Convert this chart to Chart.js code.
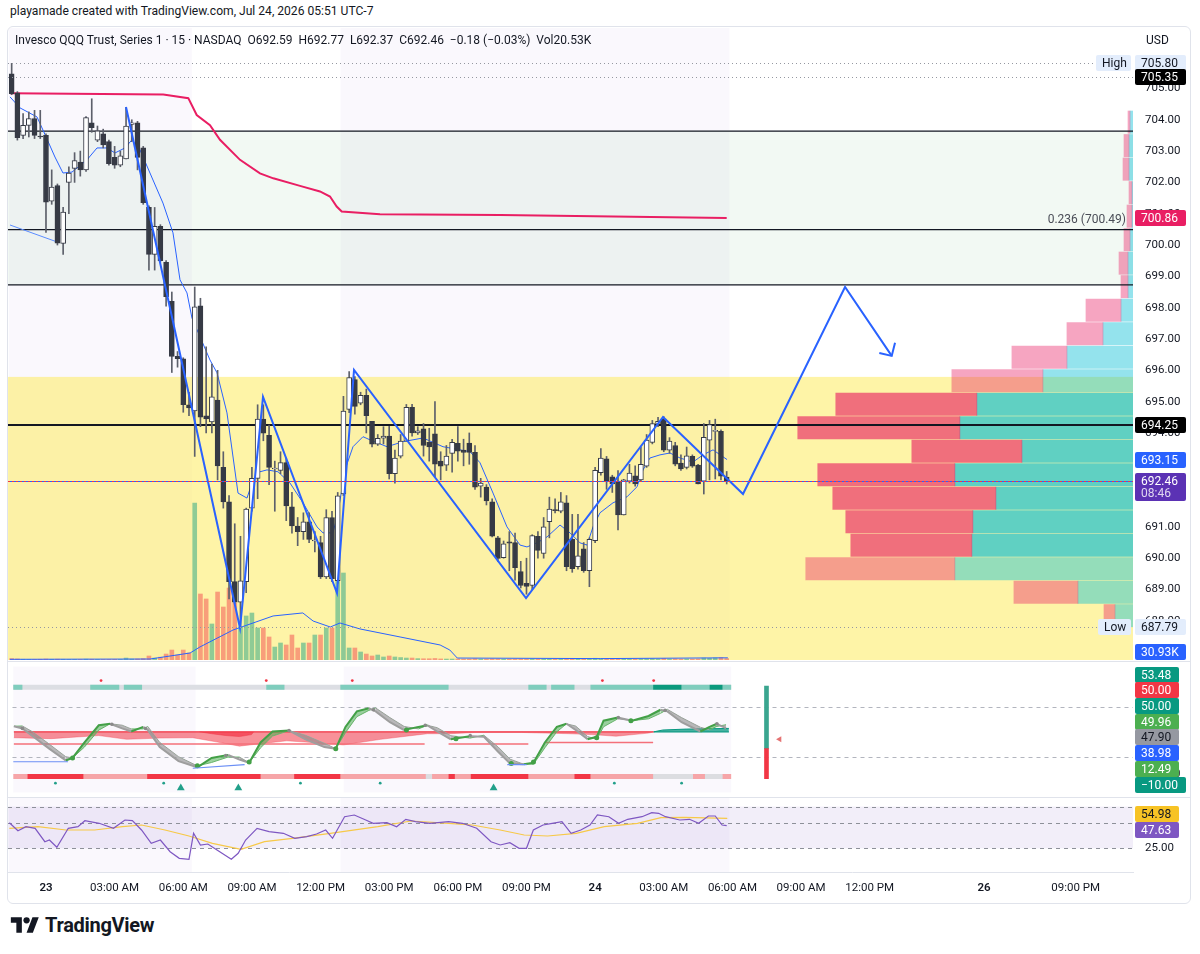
<!DOCTYPE html>
<html>
<head>
<meta charset="utf-8">
<title>QQQ 15m</title>
<script src="https://cdn.jsdelivr.net/npm/chart.js@4.4.3/dist/chart.umd.min.js"></script>
<style>
  html, body { margin: 0; padding: 0; background: #fff; }
  body { width: 1200px; height: 954px; position: relative; overflow: hidden; font-family: Roboto, "Noto Sans", sans-serif; color: #131722; }
  .abs { position: absolute; }
  canvas { position: absolute; display: block; }
  #credit { left: 10px; top: 1px; font-size: 12.1px; line-height: 20px; }
  #frame { left: 7px; top: 26px; width: 1184px; height: 878px; border: 1px solid #e0e3eb; border-radius: 6px; box-sizing: border-box; }
  #legend { left: 15px; top: 31px; font-size: 12px; line-height: 18px; white-space: pre; }
  #usd { left: 1146px; top: 31px; font-size: 12px; line-height: 18px; }
  .sep { position: absolute; left: 8px; width: 1182px; height: 1px; background: #e0e3eb; }
  #logo { left: 10px; top: 913px; display: flex; align-items: center; gap: 5px; font-size: 20px; font-weight: 700; letter-spacing: -0.3px; }
</style>
</head>
<body>
<div id="credit" class="abs">playamade created with TradingView.com, Jul 24, 2026 05:51 UTC-7</div>
<canvas id="main" width="1182" height="632" style="left:8px;top:28px"></canvas>
<canvas id="osc" width="1182" height="135" style="left:8px;top:662px"></canvas>
<canvas id="rsi" width="1182" height="105" style="left:8px;top:798px"></canvas>
<div class="sep" style="top:661px"></div>
<div class="sep" style="top:797px"></div>
<div id="frame" class="abs"></div>
<div id="legend" class="abs">Invesco QQQ Trust, Series 1 · 15 · NASDAQ  O692.59  H692.77  L692.37  C692.46  −0.18 (−0.03%)  Vol20.53K</div>
<div id="usd" class="abs">USD</div>
<div id="logo" class="abs">
  <svg width="30" height="22" viewBox="0 0 36 28"><path d="M14 24H7V11H0V4h14v20zM28 24h-8l7.5-20h8L28 24z" fill="#131722"/><circle cx="20" cy="8" r="4" fill="#131722"/></svg>
  <span>TradingView</span>
</div>

<script>
const FONT = 'Roboto, "Noto Sans", sans-serif';
Chart.defaults.font.family = FONT;
Chart.defaults.animation = false;

// ---- time axis: bar index 0 = Jul 23 00:00, one bar = 15 min
const X_MIN = -6.64, X_MAX = 190.03;
const TIME_TICKS = [0, 12, 24, 36, 48, 60, 72, 84, 96, 108, 120, 132, 144, 164, 180];
const TIME_LABELS = ["23", "03:00 AM", "06:00 AM", "09:00 AM", "12:00 PM", "03:00 PM", "06:00 PM", "09:00 PM", "24", "03:00 AM", "06:00 AM", "09:00 AM", "12:00 PM", "26", "09:00 PM"];
const DAY_LABELS = ["23", "24", "26"];
const EXT_SESSIONS = [[-6.5, 25.5], [51.5, 119.5]];

// ---- price pane
const P_MIN = 686.75, P_MAX = 706.93;
const PRICE_TICKS = [687, 688, 689, 690, 691, 692, 693, 694, 695, 696, 697, 698, 699, 700, 701, 702, 703, 704, 705];
const FIRST_BAR = -6;
const OPEN = [705.47,704.86,703.50,703.82,704.04,703.48,703.50,701.40,701.90,700.05,702.00,702.45,702.65,702.40,703.90,703.35,703.55,703.30,702.80,702.55,702.75,703.85,703.90,703.10,701.20,699.70,700.60,699.45,698.20,696.45,696.37,694.90,694.70,698.06,694.55,694.35,695.05,692.90,691.80,689.25,688.60,689.25,691.60,692.55,694.44,693.92,692.85,692.80,693.05,691.64,691.03,690.85,691.16,690.55,690.50,689.40,691.30,689.28,692.05,694.75,695.70,694.95,695.20,694.37,693.64,693.83,693.90,692.70,693.26,693.74,694.82,694.00,694.13,693.70,693.97,693.10,692.97,693.35,693.67,693.45,693.68,693.38,692.30,692.27,691.80,690.65,690.02,690.52,690.50,689.57,689.20,689.13,690.70,690.15,691.17,691.55,691.50,691.77,690.60,689.73,690.30,689.60,690.56,692.73,693.17,692.60,692.46,691.38,692.46,692.63,692.50,692.94,693.70,694.28,694.44,693.45,693.60,693.04,692.90,693.25,692.97,692.46,693.77,694.05,694.05,692.59];
const HIGH = [705.80,704.90,704.20,704.25,704.30,704.30,703.55,702.40,701.95,701.20,702.50,702.95,703.00,704.10,704.67,703.80,703.70,703.35,703.15,703.00,704.40,704.00,703.95,703.15,701.25,701.20,700.65,699.50,698.50,696.60,696.40,695.30,698.66,698.30,696.75,696.20,696.00,693.40,692.00,691.10,690.70,691.60,692.90,694.90,694.90,694.25,693.10,693.40,693.20,692.10,691.30,691.45,691.45,690.85,690.70,691.55,691.50,692.10,695.17,695.96,695.80,695.30,695.40,694.37,693.95,694.20,694.21,693.45,693.95,694.91,694.91,694.20,694.30,694.15,695.00,693.40,693.60,693.80,694.20,693.80,694.00,693.60,692.55,692.35,691.90,690.70,690.55,690.85,690.80,689.90,690.00,690.75,690.85,691.30,691.95,691.90,692.10,692.00,691.40,691.40,690.50,690.65,692.90,693.50,693.25,692.65,692.80,692.52,693.00,692.95,693.55,693.95,694.40,694.50,694.52,693.85,693.70,693.30,693.55,693.30,693.00,694.30,694.40,694.44,694.10,692.77];
const LOW = [704.80,703.35,703.40,703.45,703.40,703.40,700.40,701.30,700.00,699.70,701.00,702.00,702.20,702.35,703.60,703.30,703.10,702.55,702.45,702.50,702.75,703.30,702.40,701.30,699.20,699.20,699.45,698.05,695.93,696.10,694.66,694.55,693.25,694.20,694.00,694.00,692.50,691.60,688.70,688.55,687.79,688.90,691.50,691.90,693.75,692.35,691.50,692.70,691.20,690.80,690.40,690.60,690.50,690.20,689.35,689.35,689.25,689.20,692.00,694.65,694.60,694.90,694.00,693.55,693.60,693.65,692.53,692.40,693.20,693.74,693.90,693.95,693.26,693.10,692.60,692.50,692.80,692.75,693.10,692.95,693.00,692.20,691.95,691.70,690.68,689.90,690.00,689.60,689.30,689.05,688.85,689.00,690.00,690.00,690.65,691.45,691.45,689.60,689.55,689.65,689.55,689.09,690.50,692.65,692.20,692.10,690.90,691.38,692.40,692.30,692.47,692.90,693.65,694.20,693.40,693.35,692.95,692.80,692.85,692.90,692.37,692.05,692.50,692.53,692.50,692.37];
const CLOSE = [704.83,703.43,703.82,704.04,703.50,703.45,701.37,701.85,700.06,701.05,702.30,702.70,702.40,704.07,703.75,703.65,703.20,702.60,702.55,702.85,703.80,703.90,702.80,701.35,699.70,700.60,699.50,698.35,696.44,696.37,694.90,694.80,698.03,694.50,694.45,695.15,692.95,691.80,689.25,688.60,689.28,691.57,692.55,694.44,693.99,692.90,692.88,693.05,691.67,691.03,690.85,691.16,690.60,690.58,689.40,691.30,689.35,691.99,694.70,695.77,694.85,695.20,694.55,693.64,693.83,693.90,692.70,693.20,693.74,694.82,694.00,694.07,693.60,693.55,693.00,692.94,693.26,693.70,693.42,693.38,693.38,692.27,692.40,691.83,690.70,689.99,690.46,690.48,689.70,689.13,689.10,690.72,690.25,691.00,691.57,691.52,691.80,689.73,689.67,690.08,689.60,690.60,692.81,693.20,692.46,692.37,691.38,692.50,692.72,692.37,693.00,693.77,694.30,694.37,693.45,693.74,693.00,692.85,693.27,692.94,692.37,693.86,694.27,694.08,692.62,692.46];
const VOLUME_K = [20,15,10,8,8,10,14,10,12,10,8,8,7,12,10,8,7,8,9,8,28,14,15,20,57,28,40,85,142,71,142,100,2236,940,869,513,968,755,1025,812,470,627,669,456,456,328,185,242,214,356,171,242,242,356,356,456,456,1225,1239,171,171,114,85,57,71,43,57,43,35,28,28,20,18,18,22,15,14,14,15,12,12,18,12,12,16,14,10,10,12,12,10,14,10,12,12,10,10,16,14,12,10,14,25,18,14,12,20,16,12,10,14,16,18,14,22,14,16,12,14,12,14,28,24,30,35,20.53];
const VOL_AXIS_MAX = 9000;
const VOL_MA_X = [-6.3, 18.2, 25.2, 26.9, 32.7, 39.7, 44.9, 46.7, 49.7, 51.4, 54.9, 61.9, 68.9, 70.6, 71.9, 96.9, 119.2];
const VOL_MA_K = [10, 14, 100, 185, 427, 627, 670, 555, 470, 527, 442, 328, 214, 142, 28, 20, 30.93];

const MA_X = [-6.29,-4.55,-1.57,-0.52,1.57,2.97,4.55,7.17,8.92,10.66,12.06,13.81,15.03,16.43,18.18,20.45,22.20,23.43,24.65,25.52,28.67,29.90,31.64,33.57,35.14,36.19,37.41,38.64,40.56,42.66,44.93,47.38,48.43,50.17,51.05,52.27,53.67,55.42,56.64,59.62,62.41,65.91,69.41,72.38,74.13,75.87,78.15,80.59,82.87,84.09,85.84,87.59,89.86,91.61,93.36,94.58,95.63,96.85,99.13,101.57,103.32,104.37,105.59,107.34,109.09,110.84,113.11,114.86,116.61,119.06];
const MA_P = [704.73,704.38,704.09,703.67,702.81,702.30,702.33,702.72,703.10,703.10,702.94,703.10,703.36,703.04,702.30,701.34,700.39,698.89,698.47,697.67,696.33,695.92,694.64,692.08,691.92,692.50,692.76,692.82,692.76,692.40,691.77,691.00,690.81,690.81,691.45,692.82,693.56,693.88,693.78,693.56,693.72,693.84,693.56,693.46,693.40,693.05,692.08,691.00,690.42,690.36,690.49,690.68,691.06,690.81,690.49,690.42,691.00,691.45,691.77,691.96,692.28,692.82,693.20,693.30,693.36,693.20,693.07,693.30,693.46,693.15];
const BAND_X = [-6.29, 1.92];
const BAND_P = [700.64, 700.10];
const VWAP_X = [-6.29, 20.51, 24.88, 26.35, 28.67, 30.42, 33.92, 37.41, 39.74, 44.41, 47.90, 49.65, 50.82, 51.70, 58.39, 79.37, 119.0];
const VWAP_P = [704.85, 704.81, 704.69, 704.15, 703.83, 703.36, 702.72, 702.29, 702.13, 701.89, 701.71, 701.55, 701.23, 701.07, 700.98, 700.96, 700.86];
const ZIGZAG_X = [13.99, 33.92, 37.94, 50.87, 53.85, 83.92, 107.87, 121.85, 139.69, 147.85];
const ZIGZAG_P = [704.41, 687.77, 695.15, 688.89, 696.01, 688.73, 694.51, 692.05, 698.66, 696.46];
const ARROW_X = [145.68, 147.85, 148.43];
const ARROW_P = [696.55, 696.46, 696.88];

const LEVELS = [703.64, 700.49, 698.73, 694.25];
const FIB_LEVEL = 700.49;
const GREEN_ZONE = [698.73, 703.64];
const YELLOW_ZONE = [685.5, 695.79];
const HIGH_PRICE = 705.80, PREV_LINE = 705.35, LOW_PRICE = 687.79, LAST_PRICE = 692.46;

// volume profile, rows from the session low upward
const PROFILE_LOW = 687.79, PROFILE_ROW = 0.7504;
const PROFILE_UP_K = [540,1650,5340,4830,4800,4110,5340,3330,5190,4680,2700,1980,900,360,150,150,90,30,30,120,120,90];
const PROFILE_DN_K = [330,1920,4470,3630,3810,4890,4110,3300,4860,4230,2730,1650,1080,1050,210,270,180,150,90,180,150,60];
const VALUE_AREA = [3, 9];

const MAIN_TAGS = [
  { v: 705.80, text: "705.80", bg: "#e3edfc", fg: "#131722", side: "High" },
  { v: 705.35, text: "705.35", bg: "#000000", fg: "#ffffff" },
  { v: 700.86, text: "700.86", bg: "#e91e63", fg: "#ffffff" },
  { v: 694.25, text: "694.25", bg: "#000000", fg: "#ffffff" },
  { v: 693.15, text: "693.15", bg: "#2962ff", fg: "#ffffff" },
  { v: 692.46, text: "692.46", sub: "08:46", bg: "#5b32b4", fg: "#ffffff" },
  { v: 687.79, text: "687.79", bg: "#e3edfc", fg: "#131722", side: "Low" },
];
const VOL_TAG = { v: 30.93, text: "30.93K", bg: "#2962ff", fg: "#ffffff" };

// ---- oscillator pane
const OSC_MIN = -22.2, OSC_MAX = 127.8;
const OSC_LEVELS = [80, 20];
const OSC_X = [-6.4,-4.9,-3.1,-0.2,2.7,3.9,6.0,8.5,10.5,12.6,14.2,16.3,17.1,19.2,22.5,25.8,28.3,31.2,33.2,34.9,36.9,39.0,41.9,44.8,48.1,50.1,51.8,53.8,55.9,57.1,59.6,62.1,64.6,66.2,67.9,70.3,73.6,76.1,78.6,80.7,83.1,84.8,86.8,88.9,90.6,92.2,94.3,95.9,97.1,99.6,102.1,105.0,107.1,108.3,110.8,114.1,115.7,117.0,118.6];
const OSC_FAST = [56.7,54.1,44.8,30.0,15.9,18.9,37.4,57.8,59.6,54.1,50.4,55.9,52.2,31.9,15.2,7.8,18.9,22.6,17.0,13.3,37.4,50.4,51.5,41.1,31.9,30.0,55.9,74.4,78.1,74.4,61.5,52.2,55.9,57.8,50.4,41.1,44.8,44.1,26.3,12.2,11.5,13.3,37.4,55.9,59.6,52.2,41.1,44.1,63.3,67.0,63.3,68.9,76.3,74.4,61.5,50.4,55.9,59.6,54.1];
const OSC_SLOW = [56.7,57.0,50.0,35.5,20.5,18.9,32.0,52.0,59.6,58.0,53.5,53.5,56.5,37.5,20.5,9.5,13.5,20.0,20.0,13.3,31.0,45.0,51.5,46.0,36.5,30.0,49.0,68.0,75.5,78.5,67.0,56.5,53.5,57.8,55.0,45.5,42.5,46.0,32.0,17.5,11.5,11.5,31.0,50.0,59.6,57.0,44.5,41.1,56.0,65.5,63.3,65.5,72.0,76.8,67.0,55.5,52.5,56.5,58.5];
const GDOT_X = [3.9, 25.8, 34.9, 50.1, 62.5, 71.2, 80.9, 84.8, 95.9, 101.9];
const GDOT_V = [18.9, 9.6, 14.1, 30.0, 52.2, 41.9, 12.2, 14.1, 42.9, 63.3];
const GRDOT_X = [-4.9, 10.8, 16.7, 30.8, 41.9, 56.7, 65.8, 73.7, 99.7, 107.9, 117.0];
const GRDOT_V = [54.1, 59.0, 54.0, 21.9, 51.5, 76.3, 57.8, 45.6, 67.0, 75.6, 59.6];
const MID_V = 50;
const RED_X = [-6.4,0.2,8.5,13.4,19.2,25.0,29.1,33.2,36.5,41.5,49.7,51.4,58.0,66.2,70.4,74.5,82.7,86.9,91.0,95.1,99.3,105.0,105.9];
const RED_LOW = [43.0,41.9,45.6,41.1,42.6,43.0,38.1,33.0,35.6,39.3,35.6,34.4,41.1,47.8,47.8,49.3,49.3,48.5,47.8,46.7,44.8,48.5,50.0];
const DEEP_X = [26.2, 28.3, 30.8, 33.2, 35.3, 35.7];
const DEEP_LOW = [50, 47.8, 45.6, 44.4, 46.7, 50];
const TEAL_X = [105.9, 107.5, 111.6, 119.1];
const TEAL_HIGH = [50, 52.2, 53.3, 54.1];
const RLINE_START = [-6.4, 69.9, 86.9], RLINE_END = [65.7, 83.9, 105.8], RLINE_V = [35.6, 35.6, 37.4];
const BLINE_X = [[-6.5, 3.1], [25.0, 34.1], [80.2, 83.6]], BLINE_V = [[14.4, 14.4], [6.7, 11.1], [11.1, 11.1]];
const TOP_SEG_START = [-6.5, 7.0, 12.9, 37.9, 50.9, 83.9, 87.9, 94.8, 105.8, 110.8, 115.7, 118.0];
const TOP_SEG_END = [-4.9, 12.1, 16.1, 41.1, 69.9, 87.1, 92.0, 105.8, 110.8, 115.7, 118.0, 119.5];
const TOP_SEG_STATE = [1, 1, 1, 1, 1, 1, 1, 1, 2, 1, 2, 1];
const BOT_SEG_START = [-4.0, 17.0, 42.8, 65.9, 69.9, 73.8, 92.0, 105.8, 114.9];
const BOT_SEG_END = [5.8, 36.9, 50.9, 67.0, 71.0, 83.9, 94.8, 112.8, 118.0];
const BOT_SEG_STATE = [2, 2, 2, 0, 2, 2, 2, 0, 0];
const STRIP_RANGE = [-6.5, 119.5];
const RED_DOT_X = [8.9, 37.9, 53.0, 96.9, 105.9];
const TEAL_DOT_X = [0.9, 19.9, 43.9, 57.9, 99.0, 110.8];
const TRI_X = [22.9, 33.0, 77.8];
const GAUGE_X = 125.7, GAUGE_TOP = 104.4, GAUGE_MID = 30, GAUGE_BOT = -5.6;
const GAUGE_ARROW = { x: 128, y: 41.1 };
const OSC_TICKS = [0];
const OSC_TAGS = [
  { v: 53.48, text: "53.48", bg: "#089981", fg: "#fff" },
  { v: 50.00, text: "50.00", bg: "#f23645", fg: "#fff" },
  { v: 50.00, text: "50.00", bg: "#089981", fg: "#fff" },
  { v: 49.96, text: "49.96", bg: "#4caf50", fg: "#fff" },
  { v: 47.90, text: "47.90", bg: "#9598a1", fg: "#131722" },
  { v: 38.98, text: "38.98", bg: "#2962ff", fg: "#fff" },
  { v: 12.49, text: "12.49", bg: "#4caf50", fg: "#fff" },
  { v: -10.00, text: "\u221210.00", bg: "#089981", fg: "#fff" },
];

// ---- RSI pane
const RSI_MIN = 1.3, RSI_MAX = 75.3;
const RSI_BANDS = [66.7, 25];
const RSI_MID = 50;
const RSI_TICKS = [25];
const RSI_X = [-6.4,-4.9,-3.5,-1.9,-0.2,0.6,1.9,3.9,5.6,6.8,9.3,11.8,13.8,15.1,16.7,18.4,20.0,21.7,23.3,25.0,25.8,27.0,28.3,29.9,32.4,33.6,34.9,36.9,39.0,41.5,43.5,45.6,47.3,48.9,50.1,52.2,53.9,55.9,57.2,59.6,61.3,62.9,64.6,67.1,70.4,72.8,75.3,77.8,79.4,81.1,82.7,84.0,85.2,86.9,88.5,90.2,91.8,93.5,95.1,96.4,98.4,100.1,101.7,104.2,105.9,107.1,108.3,110.8,112.5,114.1,115.8,117.0,118.2,119.0];
const RSI_V = [50.6,42.6,46.6,45.0,31.6,33.3,26.0,45.0,46.6,52.6,50.0,45.0,53.3,52.6,43.3,30.0,33.3,21.6,15.0,14.0,40.0,28.3,29.3,23.3,14.0,20.0,33.3,45.0,41.6,40.0,35.0,36.6,39.3,43.3,35.0,56.6,58.3,53.3,50.0,50.6,46.6,54.0,51.6,50.0,51.6,50.0,45.0,31.6,28.3,30.6,25.0,25.0,43.3,48.3,50.0,51.6,40.0,43.3,48.3,58.3,56.6,50.0,54.0,56.6,60.6,60.0,56.6,53.3,54.0,50.0,57.3,57.3,48.3,47.63];
const RSI_MA_X = [-6.4,-1.4,3.5,8.5,13.4,16.7,20.8,25.0,29.1,34.1,38.2,43.1,49.7,58.0,63.8,70.4,74.5,79.4,83.6,87.7,92.7,97.6,103.4,107.5,111.6,119.1];
const RSI_MA_V = [45.0,46.6,43.3,43.3,46.6,48.3,43.3,37.3,30.0,24.0,31.6,35.0,40.0,46.6,52.3,50.0,48.3,43.3,38.3,37.3,40.0,46.6,50.0,55.6,56.0,54.98];
const RSI_TAGS = [
  { v: 54.98, text: "54.98", bg: "#f7c325", fg: "#131722" },
  { v: 47.63, text: "47.63", bg: "#7e57c2", fg: "#fff" },
];

// ---- styles
const AXIS_W = 57;
const EXT_FILL = "rgba(120,60,200,0.035)";
const UP_VOL = "rgba(8,153,129,0.45)", DN_VOL = "rgba(242,54,69,0.45)";
const CANDLE_DARK = "#363a45", WICK = "#5d606b";
const BLUE = "#2962ff";

const pts = (xs, ys) => xs.map((x, i) => ({ x, y: ys[i] }));
const bars = OPEN.map((_, i) => FIRST_BAR + i);
const isUp = (i) => CLOSE[i] >= OPEN[i];
const crisp = (v) => Math.round(v) + 0.5;

function line(data, color, width, extra = {}) {
  return { type: "line", data, borderColor: color, borderWidth: width, pointRadius: 0, tension: 0, fill: false, ...extra };
}
function dots(data, color, radius, extra = {}) {
  return { type: "line", data, showLine: false, pointRadius: radius, pointBackgroundColor: color, pointBorderWidth: 0, ...extra };
}
// back-to-front list -> Chart.js order (higher order is drawn first)
function stackOrder(list) {
  list.forEach((d, i) => { d.order = list.length - i; });
  return list;
}

function tag(ctx, x, yc, t, w, h = 16) {
  ctx.font = `12px ${FONT}`;
  const tw = ctx.measureText(t.text).width;
  const bw = w || Math.ceil(tw) + 12;
  ctx.fillStyle = t.bg;
  ctx.beginPath();
  ctx.roundRect(x, Math.round(yc - h / 2), bw, h, 2);
  ctx.fill();
  ctx.fillStyle = t.fg;
  ctx.textBaseline = "middle";
  ctx.textAlign = "left";
  ctx.fillText(t.text, x + 6, Math.round(yc) + 0.5);
  return bw;
}

function spread(items, h, top, bottom) {
  for (let it = 0; it < 200; it++) {
    let moved = false;
    for (let i = 1; i < items.length; i++) {
      const gap = items[i].y - items[i - 1].y;
      if (gap < h - 0.01) {
        const d = (h - gap) / 2;
        items[i - 1].y -= d; items[i].y += d; moved = true;
      }
    }
    items.forEach((t) => { t.y = Math.min(Math.max(t.y, top + h / 2), bottom - h / 2); });
    if (!moved) break;
  }
}

function hline(ctx, x0, x1, y, color, dash = [], width = 1, offset = 0) {
  ctx.save();
  ctx.strokeStyle = color; ctx.lineWidth = width; ctx.setLineDash(dash); ctx.lineDashOffset = offset;
  ctx.beginPath(); ctx.moveTo(x0, crisp(y)); ctx.lineTo(x1, crisp(y)); ctx.stroke();
  ctx.restore();
}

const sessionShade = {
  id: "sessionShade",
  beforeDatasetsDraw(chart) {
    const { ctx, chartArea: a, scales: { x } } = chart;
    ctx.save();
    ctx.fillStyle = EXT_FILL;
    EXT_SESSIONS.forEach(([s, e]) => {
      const x0 = Math.max(a.left, x.getPixelForValue(s));
      const x1 = Math.min(a.right, x.getPixelForValue(e));
      ctx.fillRect(x0, a.top, x1 - x0, a.height);
    });
    ctx.restore();
  },
};

const yAxisBase = (min, max, ticks, digits) => ({
  type: "linear", position: "right", min, max, offset: false,
  grid: { display: false, drawTicks: false, offset: false }, border: { display: false },
  afterBuildTicks: (s) => { s.ticks = ticks.map((v) => ({ value: v })); },
  afterFit: (s) => { s.width = AXIS_W; s.paddingTop = 0; s.paddingBottom = 0; },
  ticks: { padding: 12, color: "#131722", font: { size: 11.5 }, callback: (v) => Number(v).toFixed(digits) },
});

// ================= main price pane =================
const mainZones = {
  id: "mainZones",
  beforeDatasetsDraw(chart) {
    const { ctx, chartArea: a, scales: { y } } = chart;
    ctx.save();
    const g0 = y.getPixelForValue(GREEN_ZONE[1]), g1 = y.getPixelForValue(GREEN_ZONE[0]);
    ctx.fillStyle = "rgba(76,175,80,0.07)";
    ctx.fillRect(a.left, g0, a.width, g1 - g0);
    const y0 = y.getPixelForValue(YELLOW_ZONE[1]), y1 = Math.min(a.bottom, y.getPixelForValue(YELLOW_ZONE[0]));
    ctx.fillStyle = "rgba(253,230,60,0.45)";
    ctx.fillRect(a.left, y0, a.width, y1 - y0);
    ctx.restore();
  },
};

const mainOverlay = {
  id: "mainOverlay",
  afterDatasetsDraw(chart) {
    const { ctx, chartArea: a, scales: { y } } = chart;
    hline(ctx, a.left, a.right - 36, y.getPixelForValue(HIGH_PRICE), "#9598a1", [1, 3]);
    hline(ctx, a.left, a.right, y.getPixelForValue(PREV_LINE), "#9598a1", [1, 3]);
    hline(ctx, a.left, a.right - 30, y.getPixelForValue(LOW_PRICE), "#9598a1", [1, 3]);
    hline(ctx, a.left, a.right, y.getPixelForValue(LAST_PRICE), "#f23645", [2, 2]);
    hline(ctx, a.left, a.right, y.getPixelForValue(LAST_PRICE), BLUE, [2, 2], 1, 2);
    ctx.save();
    ctx.font = `12px ${FONT}`;
    ctx.fillStyle = "#4a4d57";
    ctx.textAlign = "right"; ctx.textBaseline = "bottom";
    ctx.fillText(`0.236 (${FIB_LEVEL.toFixed(2)})`, a.right - 7, y.getPixelForValue(FIB_LEVEL) - 4);
    ctx.restore();
  },
  afterDraw(chart) {
    const { ctx, chartArea: a, scales: { y, yv } } = chart;
    ctx.save();
    MAIN_TAGS.forEach((t) => {
      const yc = y.getPixelForValue(t.v);
      if (t.sub) {
        ctx.fillStyle = t.bg;
        ctx.beginPath(); ctx.roundRect(a.right + 2, Math.round(yc - 8), 51, 28, 2); ctx.fill();
        ctx.font = `12px ${FONT}`; ctx.fillStyle = t.fg; ctx.textBaseline = "middle"; ctx.textAlign = "left";
        ctx.fillText(t.text, a.right + 8, Math.round(yc) + 0.5);
        ctx.fillStyle = "rgba(255,255,255,0.8)";
        ctx.fillText(t.sub, a.right + 8, Math.round(yc) + 12.5);
      } else {
        tag(ctx, a.right + 2, yc, t, 51);
      }
      if (t.side) {
        ctx.font = `12px ${FONT}`;
        const w = Math.ceil(ctx.measureText(t.side).width) + 10;
        tag(ctx, a.right - 2 - w, yc, { text: t.side, bg: t.bg, fg: t.fg }, w);
      }
    });
    const vy = Math.min(yv.getPixelForValue(VOL_TAG.v), a.bottom - 8);
    tag(ctx, a.right + 2, vy, VOL_TAG, 51);
    ctx.restore();
  },
};

const rowPx = PROFILE_ROW * 632 / (P_MAX - P_MIN) - 1.2;
const profileTotals = PROFILE_UP_K.map((u, k) => u + PROFILE_DN_K[k]);
const PROFILE_AXIS_MAX = Math.max(...profileTotals) / 0.298;
const inVA = (k) => k >= VALUE_AREA[0] && k <= VALUE_AREA[1];
const rowMid = (k) => PROFILE_LOW + PROFILE_ROW * (k + 0.5);

const mainSets = stackOrder([
  { type: "bar", yAxisID: "yv", grouped: false, barThickness: 4,
    data: bars.map((x, i) => ({ x, y: VOLUME_K[i] })),
    backgroundColor: (c) => (isUp(c.dataIndex) ? UP_VOL : DN_VOL) },
  line(pts(VOL_MA_X, VOL_MA_K), BLUE, 1, { yAxisID: "yv" }),
  { type: "bar", indexAxis: "y", xAxisID: "xp", yAxisID: "y", grouped: false, barThickness: rowPx,
    data: PROFILE_UP_K.map((u, k) => ({ y: rowMid(k), x: [0, u] })),
    backgroundColor: (c) => (inVA(c.dataIndex) ? "rgba(0,188,212,0.62)" : "rgba(0,188,212,0.42)") },
  { type: "bar", indexAxis: "y", xAxisID: "xp", yAxisID: "y", grouped: false, barThickness: rowPx,
    data: PROFILE_DN_K.map((d, k) => ({ y: rowMid(k), x: [PROFILE_UP_K[k], PROFILE_UP_K[k] + d] })),
    backgroundColor: (c) => (inVA(c.dataIndex) ? "rgba(233,30,99,0.62)" : "rgba(233,30,99,0.40)") },
  ...LEVELS.map((L) => line([{ x: X_MIN, y: L }, { x: X_MAX, y: L }], "#131722", L === 694.25 ? 2 : 1.2)),
  line(pts(VWAP_X, VWAP_P), "#e91e63", 2),
  line(pts(MA_X, MA_P), BLUE, 1),
  line(pts(BAND_X, BAND_P), "#5b8cff", 1),
  { type: "bar", grouped: false, barThickness: 1, backgroundColor: WICK,
    data: bars.map((x, i) => ({ x, y: [LOW[i], HIGH[i]] })) },
  { type: "bar", grouped: false, barThickness: 5, minBarLength: 1, borderWidth: 1, borderSkipped: false,
    borderColor: CANDLE_DARK,
    backgroundColor: (c) => (isUp(c.dataIndex) ? "#ffffff" : CANDLE_DARK),
    data: bars.map((x, i) => ({ x, y: [OPEN[i], CLOSE[i]] })) },
  line(pts(ZIGZAG_X, ZIGZAG_P), BLUE, 2),
  line([{ x: ARROW_X[0], y: ARROW_P[0] }, { x: ARROW_X[1], y: ARROW_P[1] }, { x: ARROW_X[2], y: ARROW_P[2] }], BLUE, 2),
]);

new Chart(document.getElementById("main"), {
  type: "bar",
  data: { datasets: mainSets },
  options: {
    responsive: false, events: [], layout: { padding: 0 },
    plugins: { legend: { display: false }, tooltip: { enabled: false } },
    scales: {
      x: { type: "linear", min: X_MIN, max: X_MAX, display: false, offset: false, grid: { offset: false } },
      y: yAxisBase(P_MIN, P_MAX, PRICE_TICKS, 2),
      yv: { type: "linear", display: false, min: 0, max: VOL_AXIS_MAX, offset: false },
      xp: { type: "linear", display: false, reverse: true, min: 0, max: PROFILE_AXIS_MAX, offset: false },
    },
  },
  plugins: [sessionShade, mainZones, mainOverlay],
});

// ================= oscillator pane =================
function segmentSets(starts, ends, states, v, colors, width) {
  const out = [];
  Object.keys(colors).forEach((st) => {
    const data = [];
    starts.forEach((s, i) => {
      if (String(states[i]) !== st) return;
      data.push({ x: s, y: v }, { x: ends[i], y: v }, { x: (ends[i] + (starts[i + 1] ?? ends[i] + 1)) / 2, y: null });
    });
    out.push(line(data, colors[st], width, { spanGaps: false, borderCapStyle: "butt" }));
  });
  return out;
}

const TOP_STRIP_V = 103, BOT_STRIP_V = -3.3, RED_DOT_V = 111, TEAL_DOT_V = -11.1, TRI_V = -16.7;
const GREEN_RIB = "rgba(76,175,80,0.55)", GRAY_RIB = "rgba(140,140,140,0.6)";

const oscSets = stackOrder([
  line([{ x: STRIP_RANGE[0], y: TOP_STRIP_V }, { x: STRIP_RANGE[1], y: TOP_STRIP_V }], "#dcdee3", 5, { borderCapStyle: "butt" }),
  ...segmentSets(TOP_SEG_START, TOP_SEG_END, TOP_SEG_STATE, TOP_STRIP_V, { 1: "#7fcdbd", 2: "#0b9a7d" }, 5),
  dots(RED_DOT_X.map((x) => ({ x, y: RED_DOT_V })), "#f23645", 1.4),
  line(pts(RED_X, RED_LOW), "rgba(242,54,69,0.35)", 1, { fill: { value: MID_V }, backgroundColor: "rgba(242,54,69,0.55)" }),
  line(pts(DEEP_X, DEEP_LOW), "rgba(242,54,69,0.5)", 1, { fill: { value: MID_V }, backgroundColor: "rgba(242,30,50,0.55)" }),
  line(pts(TEAL_X, TEAL_HIGH), "#089981", 1, { fill: { value: MID_V }, backgroundColor: "rgba(8,153,129,0.75)" }),
  line([{ x: RED_X[0], y: MID_V }, { x: RED_X[RED_X.length - 1], y: MID_V }], "#f23645", 1.2),
  line([{ x: TEAL_X[0], y: MID_V }, { x: TEAL_X[TEAL_X.length - 1], y: MID_V }], "#089981", 1.2),
  ...RLINE_START.map((s, i) => line([{ x: s, y: RLINE_V[i] }, { x: RLINE_END[i], y: RLINE_V[i] }], "#f4707a", 1.5)),
  line(pts(OSC_X, OSC_SLOW), "rgba(150,150,150,0.8)", 1,
    { segment: { borderColor: (c) => (c.p1.parsed.y >= c.p0.parsed.y ? "#66bb6a" : "#a8a8a8") } }),
  line(pts(OSC_X, OSC_FAST), "#9e9e9e", 2, {
    fill: { target: "-1", above: GREEN_RIB, below: GRAY_RIB },
    segment: { borderColor: (c) => (c.p1.parsed.y >= c.p0.parsed.y ? "#43a047" : "#9e9e9e") },
  }),
  dots(pts(GDOT_X, GDOT_V), "#43a047", 2.5),
  dots(pts(GRDOT_X, GRDOT_V), "#8a8a8a", 1.8),
  ...BLINE_X.map((xs, i) => line(pts(xs, BLINE_V[i]), "#6b8ff5", 1.2)),
  line([{ x: STRIP_RANGE[0], y: BOT_STRIP_V }, { x: STRIP_RANGE[1], y: BOT_STRIP_V }], "#f6a5a8", 5, { borderCapStyle: "butt" }),
  ...segmentSets(BOT_SEG_START, BOT_SEG_END, BOT_SEG_STATE, BOT_STRIP_V, { 2: "#f23645", 0: "#dcdde1" }, 5),
  dots(TEAL_DOT_X.map((x) => ({ x, y: TEAL_DOT_V })), "#22a08a", 1.4),
  dots(TRI_X.map((x) => ({ x, y: TRI_V })), "#22a08a", 4.5, { pointStyle: "triangle" }),
  { type: "bar", grouped: false, barThickness: 4, backgroundColor: "#3aa58f", data: [{ x: GAUGE_X, y: [GAUGE_MID, GAUGE_TOP] }] },
  { type: "bar", grouped: false, barThickness: 4, backgroundColor: "#f23645", data: [{ x: GAUGE_X, y: [GAUGE_BOT, GAUGE_MID] }] },
  dots([GAUGE_ARROW], "#e57373", 3.5, { pointStyle: "triangle", rotation: -90 }),
]);

const oscOverlay = {
  id: "oscOverlay",
  beforeDatasetsDraw(chart) {
    const { ctx, chartArea: a, scales: { y } } = chart;
    OSC_LEVELS.forEach((v) => hline(ctx, a.left, a.right, y.getPixelForValue(v), "#b2b5be", [4, 4]));
  },
  afterDraw(chart) {
    const { ctx, chartArea: a, scales: { y } } = chart;
    const items = OSC_TAGS.map((t) => ({ ...t, y: y.getPixelForValue(t.v) }));
    items.sort((p, q) => p.y - q.y);
    spread(items, 16, a.top, a.bottom);
    items.forEach((t) => tag(ctx, a.right + 2, t.y, t, t.text.length > 5 ? 51 : 44));
  },
};

new Chart(document.getElementById("osc"), {
  type: "line",
  data: { datasets: oscSets },
  options: {
    responsive: false, events: [], layout: { padding: 0 },
    plugins: { legend: { display: false }, tooltip: { enabled: false }, filler: { propagate: false } },
    scales: {
      x: { type: "linear", min: X_MIN, max: X_MAX, display: false, offset: false },
      y: yAxisBase(OSC_MIN, OSC_MAX, OSC_TICKS, 4),
    },
  },
  plugins: [sessionShade, oscOverlay],
});

// ================= RSI pane =================
const rsiOverlay = {
  id: "rsiOverlay",
  beforeDatasetsDraw(chart) {
    const { ctx, chartArea: a, scales: { y } } = chart;
    const y0 = y.getPixelForValue(RSI_BANDS[0]), y1 = y.getPixelForValue(RSI_BANDS[1]);
    ctx.save();
    ctx.fillStyle = "rgba(126,87,194,0.1)";
    ctx.fillRect(a.left, y0, a.width, y1 - y0);
    ctx.restore();
    [RSI_BANDS[0], RSI_MID, RSI_BANDS[1]].forEach((v) => hline(ctx, a.left, a.right, y.getPixelForValue(v), "#8d9099", [4, 4]));
  },
  afterDraw(chart) {
    const { ctx, chartArea: a, scales: { y } } = chart;
    const items = RSI_TAGS.map((t) => ({ ...t, y: y.getPixelForValue(t.v) }));
    items.sort((p, q) => p.y - q.y);
    spread(items, 16, a.top, a.bottom);
    items.forEach((t) => tag(ctx, a.right + 2, t.y, t, 44));
  },
};

new Chart(document.getElementById("rsi"), {
  type: "line",
  data: {
    datasets: stackOrder([
      line(pts(RSI_MA_X, RSI_MA_V), "#f7c948", 1.2),
      line(pts(RSI_X, RSI_V), "#7e57c2", 1.2),
    ]),
  },
  options: {
    responsive: false, events: [], layout: { padding: 0 },
    plugins: { legend: { display: false }, tooltip: { enabled: false } },
    scales: {
      x: {
        type: "linear", position: "bottom", min: X_MIN, max: X_MAX, offset: false,
        grid: { display: false, drawTicks: false }, border: { display: true, color: "#e0e3eb" },
        afterBuildTicks: (s) => { s.ticks = TIME_TICKS.map((v) => ({ value: v })); },
        afterFit: (s) => { s.height = 31; s.paddingLeft = 0; s.paddingRight = 0; },
        ticks: {
          autoSkip: false, maxRotation: 0, padding: 9, color: "#131722",
          callback: (v, i) => TIME_LABELS[i],
          font: (c) => ({ size: 11.5, weight: DAY_LABELS.includes(TIME_LABELS[c.index]) ? "600" : "400" }),
        },
      },
      y: yAxisBase(RSI_MIN, RSI_MAX, RSI_TICKS, 2),
    },
  },
  plugins: [sessionShade, rsiOverlay],
});
</script>
</body>
</html>
